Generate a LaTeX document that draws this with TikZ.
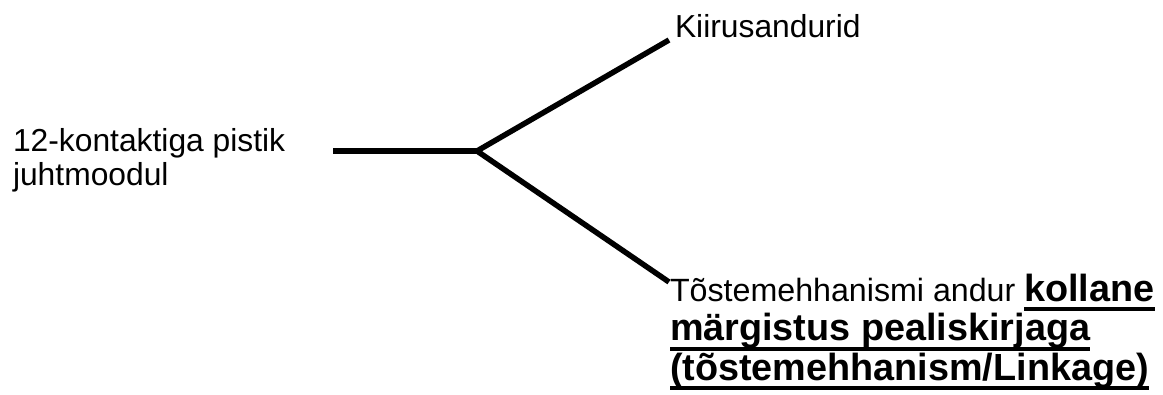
\documentclass[tikz,border=0pt]{standalone}
\usepackage{fontspec}
\setmainfont{Liberation Sans}
\newsavebox\myulbox
\newcommand\myul[1]{\sbox\myulbox{#1}\rlap{\smash{\rule[-10pt]{\wd\myulbox}{4pt}}}\usebox\myulbox}
\newcommand\bigbold[1]{{\fontsize{37.8}{39.5}\selectfont\bfseries #1}}
\newcommand\tightlines{\setlength{\lineskiplimit}{-100pt}}
\tikzset{
  lbl/.style={inner sep=0pt, outer sep=0pt, anchor=base west, align=left,
    font=\fontsize{31.8}{34}\selectfont\tightlines},
  lblwide/.style={lbl, font=\fontsize{32.2}{39.5}\selectfont\tightlines},
  wire/.style={line width=5.5pt, line cap=butt, line join=miter},
}
\begin{document}
\begin{tikzpicture}[x=1pt,y=-1pt]
\useasboundingbox (0,0) rectangle (1163,394);
\node[lbl] (src) at (13,185) {12-kontaktiga pistik\\juhtmoodul};
\node[lbl] (kiir) at (675,37) {Kiirusandurid};
\node[lblwide] (tost) at (670,380) {Tõstemehhanismi andur \myul{\bigbold{kollane}}\\
  \myul{\bigbold{märgistus pealiskirjaga}}\\
  \myul{\bigbold{(tõstemehhanism/Linkage)}}};
\coordinate (hs) at (333,151);
\coordinate (jn) at (477,151);
\coordinate (ue) at (669,40);
\coordinate (de) at (669,282);
\draw[wire] (hs) -- (jn);
\draw[wire] (ue) -- (jn) -- (de);
\end{tikzpicture}
\end{document}
